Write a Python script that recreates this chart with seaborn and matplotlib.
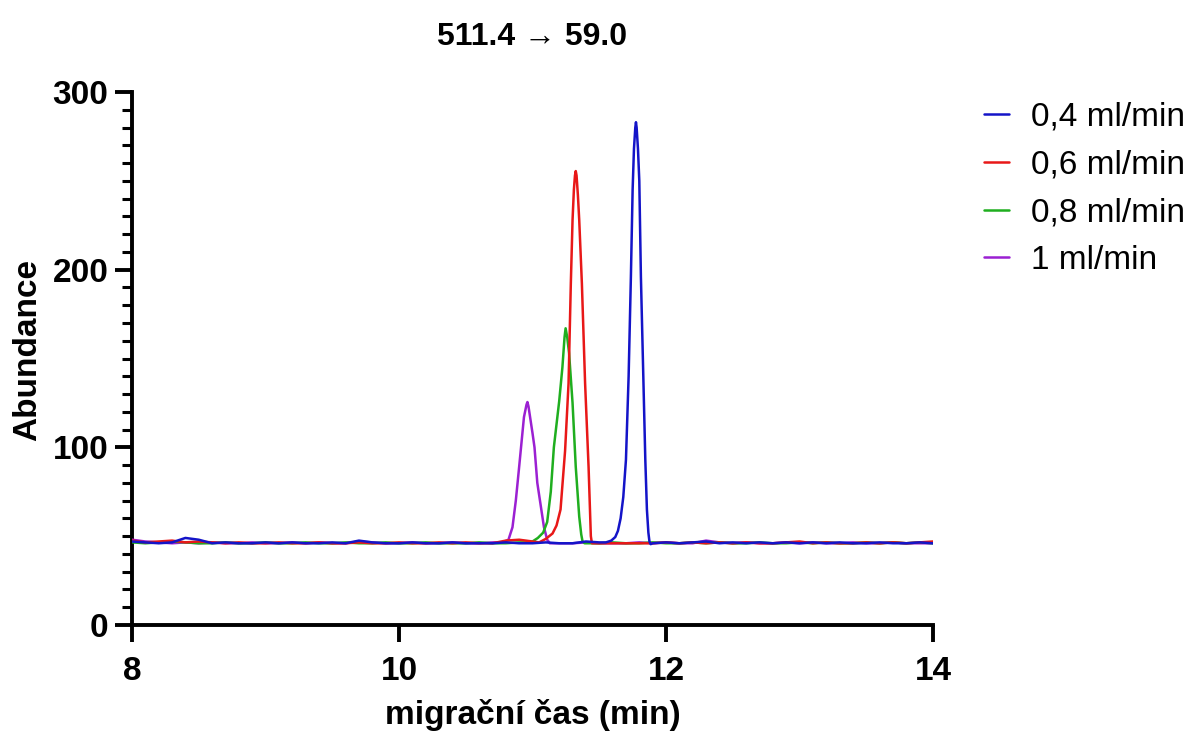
import matplotlib
matplotlib.use("Agg")
import matplotlib.pyplot as plt
from matplotlib import font_manager as fm
from matplotlib.font_manager import FontProperties
from matplotlib.ticker import MultipleLocator, FixedLocator
import numpy as np
import pandas as pd
import seaborn as sns

# ---------------- data ----------------
title_text = "511.4 \u2192 59.0"
x_label = "migrační čas (min)"
y_label = "Abundance"
series_labels = ["0,4 ml/min", "0,6 ml/min", "0,8 ml/min", "1 ml/min"]
series_colors = ["#1414c8", "#e81818", "#1fae1f", "#9b20d2"]
x_ticks = [8, 10, 12, 14]
y_ticks = [0, 100, 200, 300]

# shared baseline sampling times (min)
base_t = [8.0, 8.1, 8.2, 8.3, 8.4, 8.5, 8.6, 8.7, 8.8, 8.9,
          9.0, 9.1, 9.2, 9.3, 9.4, 9.5, 9.6, 9.7, 9.8, 9.9,
          10.0, 10.1, 10.2, 10.3, 10.4, 10.5, 10.6, 10.7, 10.8, 10.9,
          11.0, 11.1, 11.2, 11.3, 11.4, 11.5, 11.6, 11.7, 11.8, 11.9,
          12.0, 12.1, 12.2, 12.3, 12.4, 12.5, 12.6, 12.7, 12.8, 12.9,
          13.0, 13.1, 13.2, 13.3, 13.4, 13.5, 13.6, 13.7, 13.8, 13.9,
          14.0]

N = None
base_blue = [47.0, 46.5, 46.0, 46.5, 49.0, 48.0, 46.0, 46.5, 46.0, 46.0,
             46.5, 46.0, 46.5, 46.0, 46.0, 46.5, 46.0, 47.5, 46.5, 46.0,
             46.0, 46.5, 46.0, 46.0, 46.5, 46.0, 46.0, 46.0, 46.5, 46.0,
             46.0, 46.5, 46.0, 46.0, 47.0, 46.5, N, N, N, 46.0,
             46.5, 46.0, 46.5, 47.0, 46.0, 46.5, 46.0, 46.5, 46.0, 46.5,
             46.0, 46.5, 46.0, 46.5, 46.0, 46.0, 46.5, 46.0, 46.0, 46.5,
             46.0]
base_red = [47.5, 46.5, 47.0, 47.5, 46.5, 47.0, 46.5, 46.0, 46.5, 46.0,
            46.0, 46.5, 46.0, 46.0, 46.5, 46.0, 46.0, 46.5, 46.0, 46.0,
            46.5, 46.0, 46.0, 46.5, 46.0, 46.5, 46.0, 46.0, 47.5, 48.0,
            47.0, N, N, N, N, 46.0, 46.0, 46.0, 46.0, 46.0,
            46.5, 46.0, 46.5, 46.0, 46.5, 46.0, 46.5, 46.0, 46.0, 46.5,
            47.0, 46.0, 46.5, 46.0, 46.0, 46.5, 46.0, 46.5, 46.0, 46.5,
            47.0]
base_green = [46.5, 46.0, 46.5, 47.0, 46.5, 46.0, 46.0, 46.5, 46.0, 46.0,
              46.5, 46.0, 46.0, 46.5, 46.0, 46.0, 46.5, 46.0, 46.0, 46.5,
              46.0, 46.0, 46.5, 46.0, 46.0, 46.0, 46.5, 46.0, 46.0, 46.5,
              N, N, N, N, 46.0, 46.0, 46.5, 46.0, 46.0, 46.5,
              46.0, 46.0, 46.5, 46.0, 46.5, 46.0, 46.0, 46.5, 46.0, 46.0,
              46.5, 46.0, 46.5, 46.0, 46.0, 46.5, 46.0, 46.5, 46.0, 46.5,
              46.0]
base_purple = [48.0, 47.0, 46.5, 46.0, 46.5, 46.0, 46.5, 46.0, 46.0, 46.5,
               46.0, 46.0, 46.5, 46.0, 46.5, 46.0, 46.0, 47.0, 46.5, 46.0,
               46.0, 46.5, 46.0, 46.0, 46.5, 46.0, 46.0, 46.5, N, N,
               N, N, 46.0, 46.0, 46.5, 46.0, 46.0, 46.0, 46.5, 46.0,
               46.5, 46.0, 46.0, 47.5, 46.5, 46.0, 46.5, 46.0, 46.0, 46.5,
               46.0, 46.5, 46.0, 46.0, 46.5, 46.0, 46.0, 46.5, 46.0, 46.0,
               46.0]

# peak segments
peak_t_blue = [11.55, 11.59, 11.62, 11.64, 11.66, 11.68, 11.70, 11.72, 11.737, 11.75,
               11.76, 11.77, 11.775, 11.78, 11.79, 11.80, 11.812, 11.83, 11.845, 11.857,
               11.868, 11.876, 11.885]
peak_y_blue = [46.5, 47.5, 49.5, 53.0, 60.0, 72.0, 93.0, 140.0, 196.0, 245.0,
               268.0, 280.0, 283.0, 280.0, 268.0, 250.0, 196.0, 140.0, 93.0, 65.0,
               52.0, 47.0, 45.5]

peak_t_red = [11.05, 11.10, 11.15, 11.18, 11.21, 11.244, 11.27, 11.287, 11.30, 11.31,
              11.318, 11.324, 11.33, 11.34, 11.35, 11.37, 11.394, 11.42, 11.437, 11.445]
peak_y_red = [46.5, 48.5, 51.5, 56.0, 65.0, 98.0, 136.0, 192.0, 228.0, 245.0,
              253.0, 255.5, 253.0, 242.0, 228.0, 192.0, 136.0, 89.0, 50.0, 46.0]

peak_t_green = [10.95, 11.0, 11.04, 11.08, 11.11, 11.137, 11.16, 11.2, 11.224, 11.24,
                11.248, 11.26, 11.274, 11.30, 11.324, 11.35, 11.365, 11.375, 11.39]
peak_y_green = [46.5, 47.0, 49.0, 52.0, 58.0, 75.0, 100.0, 126.0, 145.0, 162.0,
                167.0, 162.0, 153.0, 125.0, 89.0, 61.0, 51.0, 47.0, 46.0]

peak_t_purple = [10.78, 10.82, 10.85, 10.875, 10.90, 10.936, 10.955, 10.962, 10.97, 10.98,
                 11.0, 11.015, 11.036, 11.06, 11.086, 11.11, 11.13]
peak_y_purple = [46.5, 48.0, 55.0, 70.0, 89.0, 117.0, 124.0, 125.5, 123.0, 118.0,
                 108.0, 100.0, 80.0, 68.0, 55.0, 48.0, 46.0]

# ---------------- assemble ----------------
bases = [base_blue, base_red, base_green, base_purple]
peaks_t = [peak_t_blue, peak_t_red, peak_t_green, peak_t_purple]
peaks_y = [peak_y_blue, peak_y_red, peak_y_green, peak_y_purple]

rows = []
for lab, b, pt, py in zip(series_labels, bases, peaks_t, peaks_y):
    for t, v in zip(base_t, b):
        if v is not None:
            rows.append((t, v, lab))
    for t, v in zip(pt, py):
        rows.append((t, v, lab))
df = pd.DataFrame(rows, columns=["time", "abundance", "flow"])

# ---------------- style ----------------
sns.set_style("ticks")
plt.rcParams["font.family"] = ["Liberation Sans", "DejaVu Sans"]
plt.rcParams["text.color"] = "black"
plt.rcParams["axes.labelcolor"] = "black"
plt.rcParams["xtick.color"] = "black"
plt.rcParams["ytick.color"] = "black"


def bold_fp(size):
    return FontProperties(family=["Liberation Sans", "DejaVu Sans"], weight="bold", size=size)


fig = plt.figure(figsize=(11.9, 7.35), dpi=100)
ax = fig.add_axes([132 / 1190, 1 - 625 / 735, (933 - 132) / 1190, (625 - 92) / 735])

sns.lineplot(data=df, x="time", y="abundance", hue="flow", hue_order=series_labels,
             palette=series_colors, estimator=None, sort=True, linewidth=1.8, ax=ax)

n = len(series_labels)
for i, ln in enumerate(ax.lines[:n]):
    ln.set_zorder(2 + (n - i))

ax.set_xlim(8, 14)
ax.set_ylim(0, 300)
ax.xaxis.set_major_locator(FixedLocator(x_ticks))
ax.yaxis.set_major_locator(FixedLocator(y_ticks))
ax.yaxis.set_minor_locator(MultipleLocator(10))

sns.despine(ax=ax)
for side in ["left", "bottom"]:
    ax.spines[side].set_linewidth(2.8)
    ax.spines[side].set_color("black")

ax.tick_params(axis="both", which="major", length=12, width=2.8, colors="black",
               labelcolor="black")
ax.tick_params(axis="y", which="minor", length=7, width=2.2, colors="black")
ax.tick_params(axis="y", which="major", pad=5)
ax.tick_params(axis="x", which="major", pad=10)
ax.set_xticks(x_ticks)
ax.set_yticks(y_ticks)
ax.set_xticklabels([str(v) for v in x_ticks], fontproperties=bold_fp(24))
ax.set_yticklabels([str(v) for v in y_ticks], fontproperties=bold_fp(24))

ax.set_xlabel(x_label, fontproperties=bold_fp(24), labelpad=9, color="black")
ax.set_ylabel(y_label, fontproperties=bold_fp(24), labelpad=7, color="black")
ax.yaxis.label.set_y(0.516)
ax.set_title(title_text, fontproperties=bold_fp(23), pad=34, color="black")

sns.move_legend(ax, "upper left", bbox_to_anchor=(984 / 1190, 1 - 102 / 735),
                bbox_transform=fig.transFigure, frameon=False, title=None,
                fontsize=24, handlelength=0.75, handletextpad=0.65,
                labelspacing=0.5, borderpad=0, borderaxespad=0)
leg = ax.get_legend()
for ln in leg.get_lines():
    ln.set_linewidth(1.8)
for txt in leg.get_texts():
    txt.set_color("black")

fig.savefig("out.png", dpi=100)
